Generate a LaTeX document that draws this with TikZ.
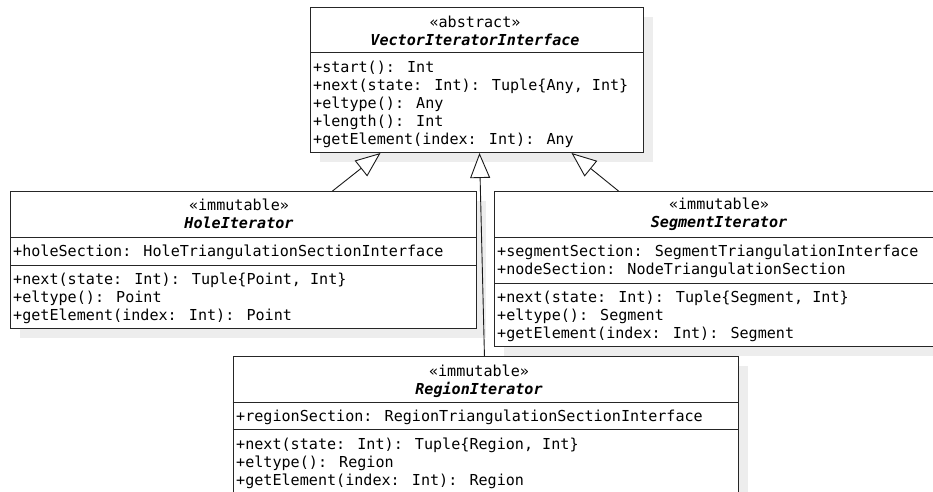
\documentclass[tikz,border=0pt]{standalone}
\usepackage{fontspec}
\setmainfont{DejaVu Sans Mono}
\setmonofont{DejaVu Sans Mono}
\usetikzlibrary{arrows.meta,shadows}

\tikzset{
  classbox/.style={draw=black!85, line width=1pt, fill=white, anchor=north west, inner sep=0pt,
    drop shadow={shadow xshift=9pt, shadow yshift=-9pt, fill=black!7, opacity=1}},
  compartment/.style={draw=black!85, line width=1pt},
  header/.style={align=center, inner sep=0pt},
  members/.style={align=left, anchor=west, inner sep=0pt},
  inherits/.style={draw=black!90, line width=0.9pt,
    -{Triangle[open, fill=white, length=25pt, width=20pt]}}
}

\begin{document}
\begin{tikzpicture}[x=1pt, y=-1pt, font=\fontsize{15.1}{18}\selectfont]
    \useasboundingbox (0,0) rectangle (933,491);

    % Abstract interface
    \node[classbox, minimum width=333pt, minimum height=145pt] (vii) at (310,7) {};
    \draw[compartment] (310,52) -- (643,52);
    \node[header] (vii-head) at (475,31) {«abstract»\\\textbf{\textit{VectorIteratorInterface}}};
    \node[members] (vii-ops) at (313,104) {+start(): Int\\+next(state: Int): Tuple\{Any, Int\}\\+eltype(): Any\\+length(): Int\\+getElement(index: Int): Any};

    % Hole iterator
    \node[classbox, minimum width=466pt, minimum height=137pt] (hole) at (10,191) {};
    \draw[compartment] (10,237) -- (476,237);
    \draw[compartment] (10,265) -- (476,265);
    \node[header] (hole-head) at (239,214) {«immutable»\\\textbf{\textit{HoleIterator}}};
    \node[members] (hole-attr) at (13,252) {+holeSection: HoleTriangulationSectionInterface};
    \node[members] (hole-ops) at (13,298.5) {+next(state: Int): Tuple\{Point, Int\}\\+eltype(): Point\\+getElement(index: Int): Point};

    % Segment iterator
    \node[classbox, minimum width=452pt, minimum height=155pt] (segment) at (494,191) {};
    \draw[compartment] (494,237) -- (946,237);
    \draw[compartment] (494,283) -- (946,283);
    \node[header] (segment-head) at (719,214) {«immutable»\\\textbf{\textit{SegmentIterator}}};
    \node[members] (segment-attr) at (497,261) {+segmentSection: SegmentTriangulationInterface\\+nodeSection: NodeTriangulationSection};
    \node[members] (segment-ops) at (497,316) {+next(state: Int): Tuple\{Segment, Int\}\\+eltype(): Segment\\+getElement(index: Int): Segment};

    % Region iterator
    \node[classbox, minimum width=505.3pt, minimum height=150pt] (region) at (232.7,356) {};
    \draw[compartment] (232.7,402) -- (738,402);
    \draw[compartment] (232.7,429) -- (738,429);
    \node[header] (region-head) at (479,381) {«immutable»\\\textbf{\textit{RegionIterator}}};
    \node[members] (region-attr) at (236,417) {+regionSection: RegionTriangulationSectionInterface};
    \node[members] (region-ops) at (236,463.5) {+next(state: Int): Tuple\{Region, Int\}\\+eltype(): Region\\+getElement(index: Int): Region};

    % Generalisations
    \draw[inherits] ([xshift=89pt]hole.north) -- ([xshift=-96.5pt]vii.south);
    \draw[inherits] ([xshift=-1.4pt]region.north) -- ([xshift=2.5pt]vii.south);
    \draw[inherits] ([xshift=-102pt]segment.north) -- ([xshift=94.5pt]vii.south);
\end{tikzpicture}
\end{document}
